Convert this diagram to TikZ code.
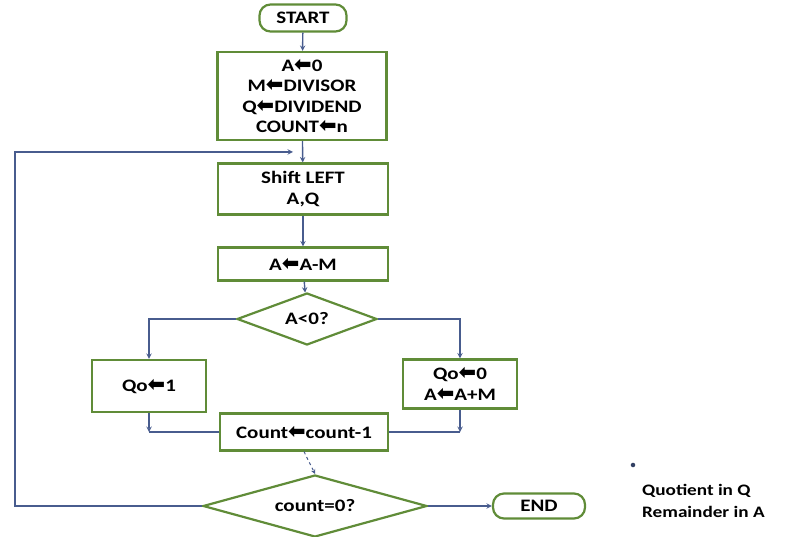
\documentclass[tikz,border=0pt]{standalone}
\usepackage{fontspec}
\setmainfont{Carlito}[FakeStretch=1.2]
\newfontfamily\arrowfont{DejaVu Sans}
\newcommand{\getsarrow}{{\arrowfont\fontsize{21}{20}\selectfont ⬅}}
\usetikzlibrary{shapes.geometric}

\definecolor{boxgreen}{RGB}{96,140,56}
\definecolor{flowblue}{RGB}{72,92,142}

\begin{document}
\begin{tikzpicture}[x=1pt,y=-1pt,
    every node/.style={font=\fontsize{17.5}{20.5}\selectfont\bfseries},
    box/.style={draw=boxgreen,line width=2.2pt,rectangle,align=center,inner sep=2pt},
    terminal/.style={draw=boxgreen,line width=2.2pt,rectangle,rounded corners=11pt,align=center},
    decision/.style={draw=boxgreen,line width=2.2pt,diamond,aspect=3,inner sep=0pt},
    line/.style={draw=flowblue,line width=1.4pt},
    flow/.style={line,-stealth}]
  \useasboundingbox (0,0) rectangle (788,537);

  \node[terminal,minimum width=87pt,minimum height=27pt] (start) at (303,18) {START};
  \node[box,minimum width=169pt,minimum height=88pt] (init) at (302,96)
    {A\getsarrow0\\M\getsarrow DIVISOR\\Q\getsarrow DIVIDEND\\COUNT\getsarrow n};
  \node[box,minimum width=170pt,minimum height=51pt] (shift) at (303,189) {Shift LEFT\\A,Q};
  \node[box,minimum width=170pt,minimum height=33pt] (sub) at (303,264) {A\getsarrow A-M};
  \node[decision,minimum width=140pt,minimum height=52pt] (aneg) at (307,319) {A<0?};
  \node[box,minimum width=114pt,minimum height=52pt] (qone) at (149,386) {Qo\getsarrow1};
  \node[box,minimum width=114pt,minimum height=49pt] (qzero) at (460,384) {Qo\getsarrow0\\A\getsarrow A+M};
  \node[box,minimum width=168pt,minimum height=37pt] (count) at (304,432) {Count\getsarrow count-1};
  \node[decision,minimum width=224pt,minimum height=62pt] (zero) at (315,506) {count=0?};
  \node[terminal,minimum width=92pt,minimum height=25pt] (end) at (539,506) {END};

  \node[circle,fill=flowblue!70!black,inner sep=1.6pt] (bullet) at (633,465) {};
  \node[anchor=north west,align=left,inner sep=0pt,font=\fontsize{16}{22}\selectfont\bfseries] (notes) at (642,484)
    {Quotient in Q\\Remainder in A};

  % main line
  \draw[flow] (start) -- (init);
  \draw[flow] (init) -- (shift);
  \draw[flow] (shift) -- (sub);
  \draw[flow] (sub) -- (aneg);

  % the two branches
  \draw[flow] (aneg.west) -| (qone.north);
  \draw[flow] (aneg.east) -| (qzero.north);
  \coordinate (joinl) at (qone.south |- count.west);
  \coordinate (joinr) at (qzero.south |- count.east);
  \draw[flow] (qone.south) -- (joinl);
  \draw[line] (joinl) -- (count.west);
  \draw[flow] (qzero.south) -- (joinr);
  \draw[line] (joinr) -- (count.east);

  \draw[flow,line width=1pt,dashed] (count.south) -- (zero.north);
  \draw[flow] (zero.east) -- (end.west);

  % back to the shift
  \coordinate (loopcorner) at (15,152);
  \coordinate (loopin) at (init.south |- loopcorner);
  \draw[flow,shorten >=9pt] (zero.west) -| (loopcorner) -- (loopin);
\end{tikzpicture}
\end{document}
